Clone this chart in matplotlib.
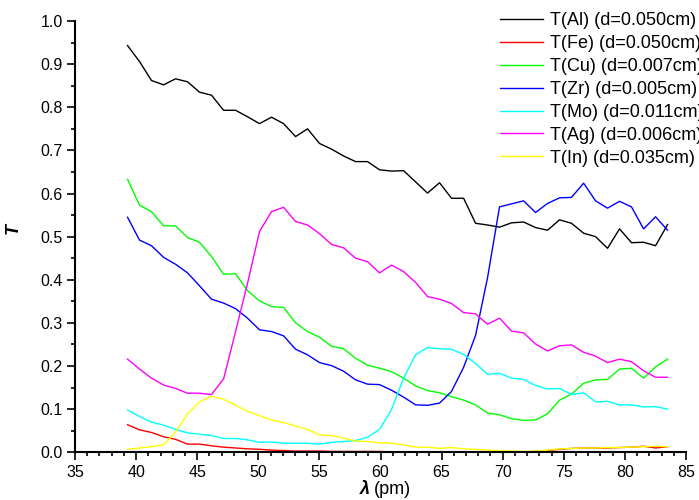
import matplotlib
matplotlib.use("Agg")
import matplotlib.pyplot as plt
from matplotlib.ticker import MultipleLocator, FormatStrFormatter

plt.rcParams['font.family'] = ['Liberation Sans', 'DejaVu Sans']

# wavelength (pm)
wl = [39.30, 40.28, 41.26, 42.25, 43.23, 44.21, 45.19, 46.17, 47.16, 48.14,
      49.12, 50.10, 51.08, 52.07, 53.05, 54.03, 55.01, 55.99, 56.98, 57.96,
      58.94, 59.92, 60.90, 61.89, 62.87, 63.85, 64.83, 65.81, 66.80, 67.78,
      68.76, 69.74, 70.72, 71.71, 72.69, 73.67, 74.65, 75.63, 76.62, 77.60,
      78.58, 79.56, 80.54, 81.53, 82.51, 83.49]

t_al = [0.943, 0.906, 0.862, 0.852, 0.866, 0.859, 0.835, 0.828, 0.793, 0.793,
        0.778, 0.762, 0.777, 0.762, 0.732, 0.750, 0.716, 0.703, 0.687, 0.674,
        0.674, 0.655, 0.652, 0.653, 0.627, 0.601, 0.625, 0.589, 0.589, 0.531,
        0.527, 0.522, 0.532, 0.534, 0.521, 0.515, 0.539, 0.531, 0.508, 0.500,
        0.473, 0.518, 0.486, 0.487, 0.479, 0.528]
t_fe = [0.064, 0.052, 0.046, 0.036, 0.030, 0.019, 0.019, 0.015, 0.012, 0.010,
        0.008, 0.007, 0.005, 0.004, 0.003, 0.003, 0.003, 0.002, 0.002, 0.002,
        0.002, 0.002, 0.001, 0.001, 0.001, 0.001, 0.001, 0.001, 0.001, 0.001,
        0.001, 0.001, 0.001, 0.001, 0.002, 0.004, 0.007, 0.009, 0.010, 0.010,
        0.010, 0.011, 0.012, 0.014, 0.010, 0.013]
t_cu = [0.633, 0.573, 0.558, 0.525, 0.525, 0.498, 0.487, 0.454, 0.413, 0.414,
        0.375, 0.351, 0.338, 0.336, 0.300, 0.280, 0.267, 0.246, 0.240, 0.218,
        0.202, 0.195, 0.187, 0.172, 0.154, 0.143, 0.138, 0.129, 0.121, 0.110,
        0.091, 0.087, 0.078, 0.074, 0.075, 0.089, 0.121, 0.135, 0.160, 0.168,
        0.169, 0.193, 0.195, 0.172, 0.198, 0.216]
t_zr = [0.545, 0.492, 0.479, 0.452, 0.436, 0.416, 0.386, 0.355, 0.346, 0.333,
        0.311, 0.284, 0.280, 0.270, 0.239, 0.226, 0.208, 0.201, 0.188, 0.168,
        0.158, 0.157, 0.144, 0.128, 0.110, 0.109, 0.114, 0.141, 0.197, 0.271,
        0.405, 0.569, 0.576, 0.583, 0.556, 0.577, 0.590, 0.591, 0.624, 0.583,
        0.566, 0.582, 0.569, 0.518, 0.546, 0.515]
t_mo = [0.098, 0.083, 0.070, 0.063, 0.053, 0.045, 0.042, 0.039, 0.032, 0.032,
        0.029, 0.023, 0.024, 0.021, 0.021, 0.021, 0.019, 0.023, 0.025, 0.027,
        0.035, 0.053, 0.099, 0.172, 0.226, 0.243, 0.240, 0.239, 0.227, 0.206,
        0.181, 0.183, 0.172, 0.169, 0.155, 0.147, 0.148, 0.134, 0.138, 0.117,
        0.118, 0.110, 0.110, 0.105, 0.106, 0.100]
t_ag = [0.216, 0.193, 0.172, 0.156, 0.148, 0.137, 0.137, 0.134, 0.170, 0.280,
        0.392, 0.512, 0.558, 0.568, 0.535, 0.527, 0.507, 0.482, 0.474, 0.450,
        0.442, 0.416, 0.434, 0.419, 0.394, 0.361, 0.355, 0.345, 0.324, 0.321,
        0.297, 0.311, 0.281, 0.277, 0.251, 0.235, 0.247, 0.249, 0.232, 0.223,
        0.208, 0.216, 0.210, 0.189, 0.174, 0.174]
t_in = [0.007, 0.010, 0.013, 0.018, 0.047, 0.089, 0.117, 0.130, 0.123, 0.109,
        0.095, 0.085, 0.075, 0.069, 0.061, 0.053, 0.040, 0.039, 0.033, 0.026,
        0.025, 0.022, 0.021, 0.017, 0.012, 0.012, 0.009, 0.011, 0.008, 0.007,
        0.005, 0.004, 0.003, 0.002, 0.003, 0.005, 0.008, 0.009, 0.010, 0.010,
        0.011, 0.011, 0.012, 0.013, 0.014, 0.013]

labels = ['T(Al) (d=0.050cm)', 'T(Fe) (d=0.050cm)', 'T(Cu) (d=0.007cm)',
          'T(Zr) (d=0.005cm)', 'T(Mo) (d=0.011cm)', 'T(Ag) (d=0.006cm)',
          'T(In) (d=0.035cm)']
colors = ['#000000', '#FF0000', '#00FF00', '#0000FF', '#00FFFF', '#FF00FF', '#FFFF00']
series = [t_al, t_fe, t_cu, t_zr, t_mo, t_ag, t_in]

fig = plt.figure(figsize=(6.99, 5.0), dpi=100)
ax = fig.add_axes([75/699, 1-452.3/500, 611/699, 431.3/500])

for ys, c, lab in zip(series, colors, labels):
    ax.plot(wl, ys, color=c, lw=1.0, label=lab)

ax.set_xlim(35, 85)
ax.set_ylim(0, 1.0)
ax.xaxis.set_major_locator(MultipleLocator(5))
ax.xaxis.set_minor_locator(MultipleLocator(1))
ax.yaxis.set_major_locator(MultipleLocator(0.1))
ax.yaxis.set_minor_locator(MultipleLocator(0.05))
ax.yaxis.set_major_formatter(FormatStrFormatter('%.1f'))

for s in ['top', 'right']:
    ax.spines[s].set_visible(False)
for s in ['left', 'bottom']:
    ax.spines[s].set_linewidth(1.5)
ax.tick_params(which='major', direction='out', length=5.8, width=1.2,
               labelsize=11.5, pad=3)
ax.tick_params(which='minor', direction='out', length=3, width=1.2)

ax.set_ylabel('T', fontsize=13, fontweight='bold', style='italic')
ax.yaxis.set_label_coords(-0.087, 0.52)

fig.text(370/699, 0.02, 'λ', ha='right', va='center', fontsize=13,
         fontweight='bold', style='italic')
fig.text(374/699, 0.02, '(pm)', ha='left', va='center', fontsize=13)

ax.legend(loc='upper left', bbox_to_anchor=(500/699, 1-12/500),
          bbox_transform=fig.transFigure, frameon=False, fontsize=13,
          borderpad=0, borderaxespad=0, labelspacing=0.33,
          handlelength=2.4, handletextpad=0.35)

fig.savefig('out.png', dpi=100)
